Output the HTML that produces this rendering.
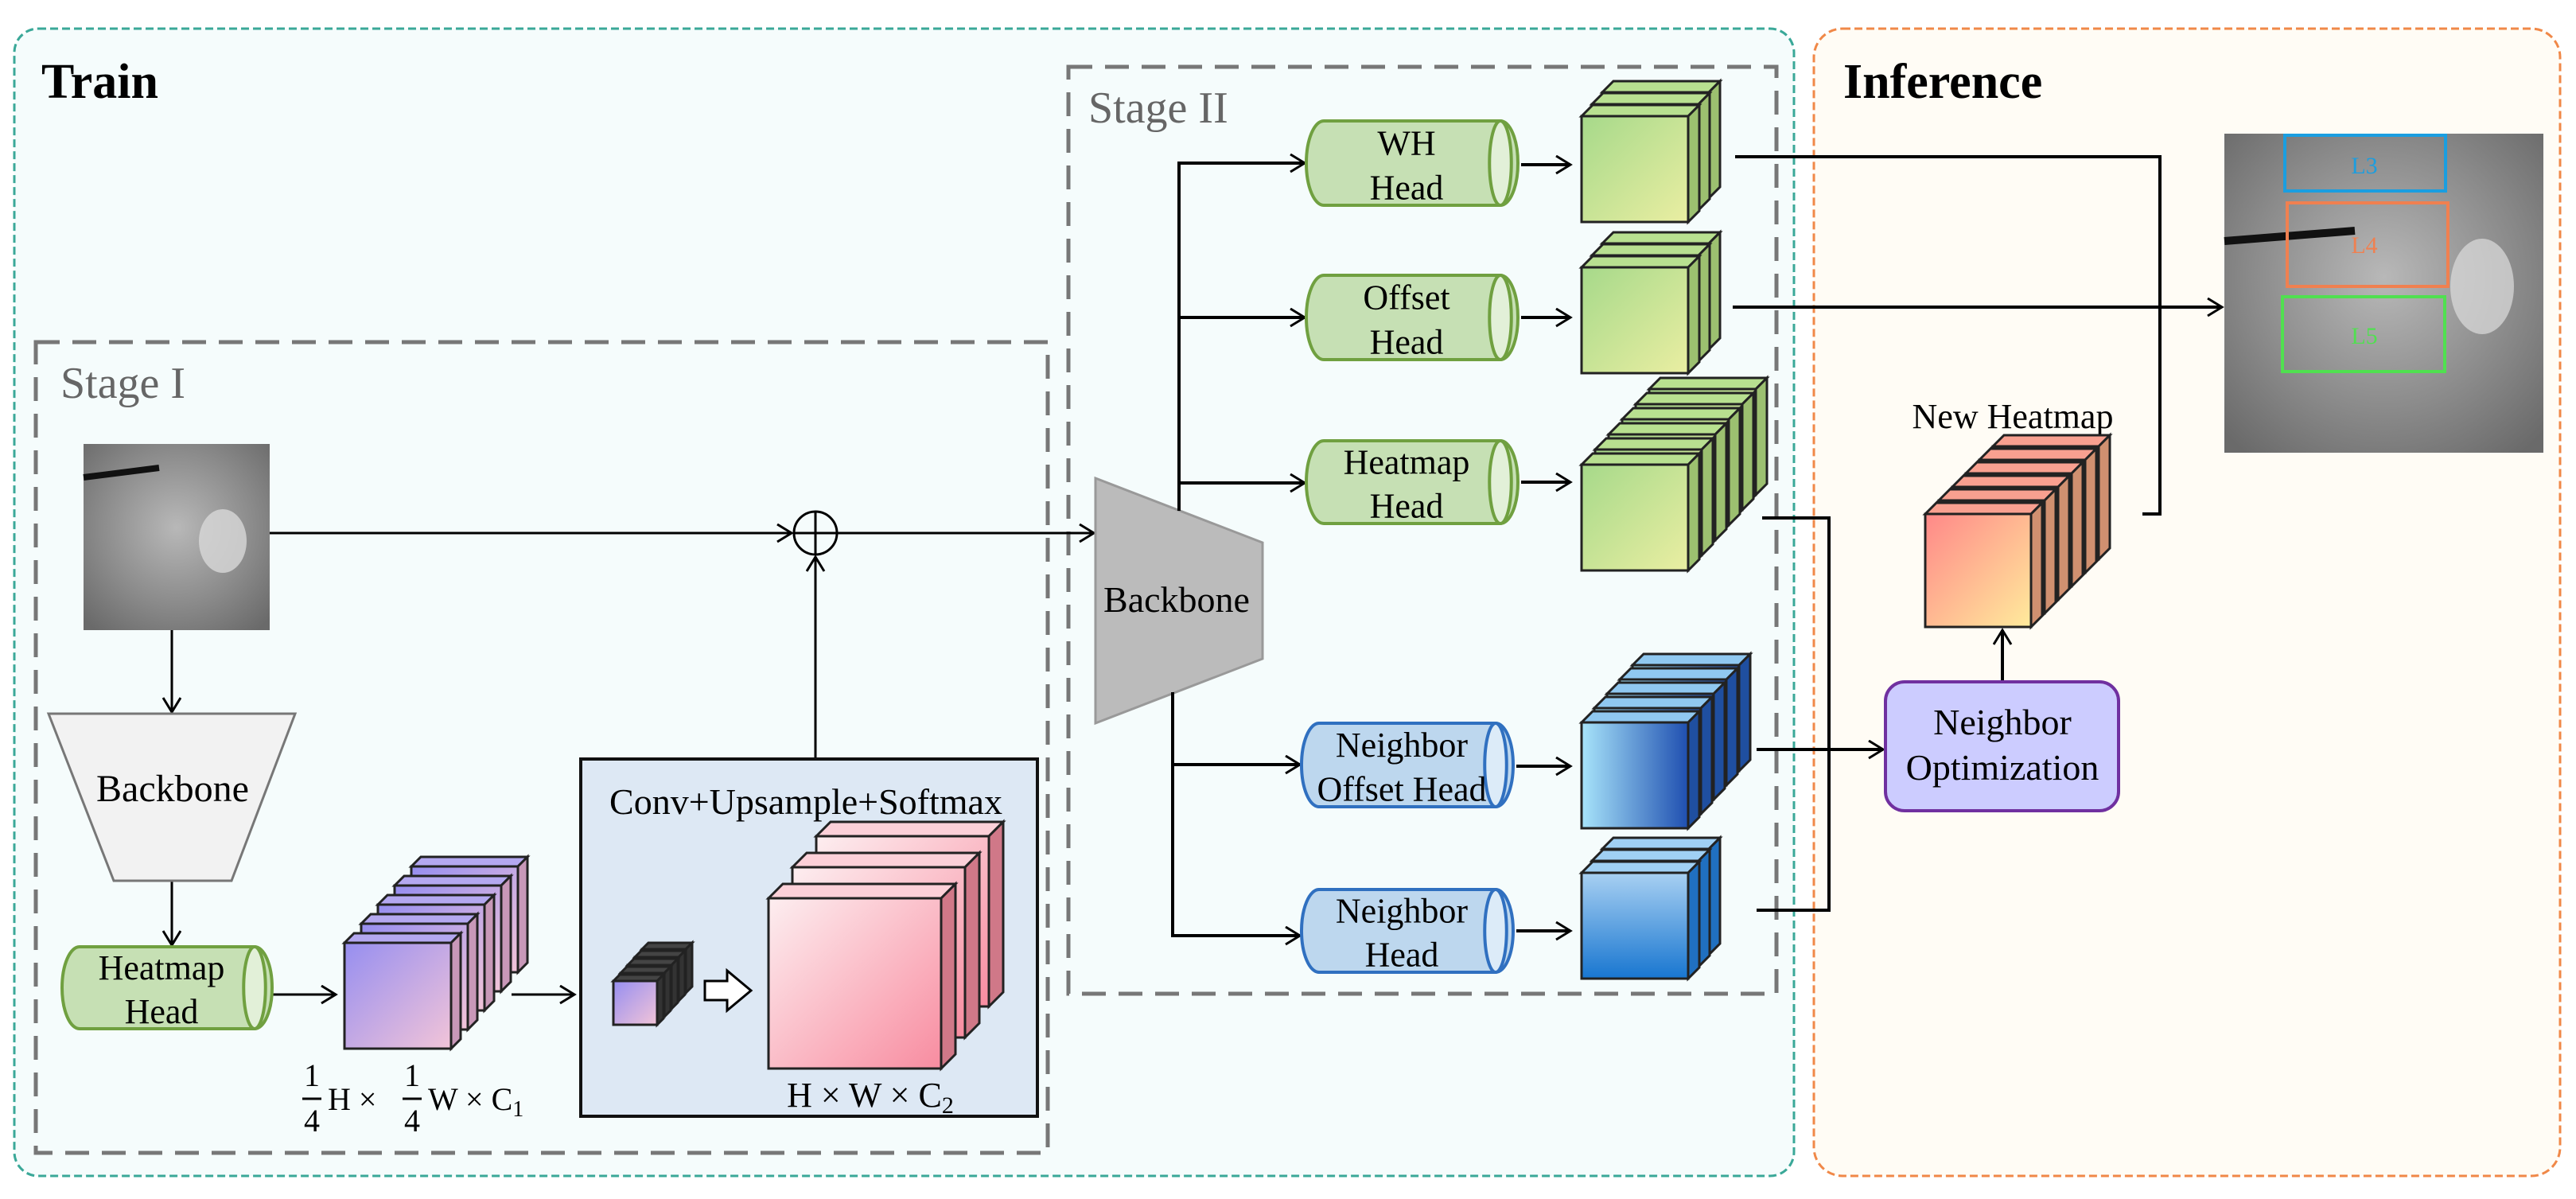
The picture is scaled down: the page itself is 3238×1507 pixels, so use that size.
<!DOCTYPE html>
<html><head><meta charset="utf-8"><style>
html,body{margin:0;padding:0;background:#fff;}
svg{display:block;font-family:"Liberation Serif",serif;}
</style></head><body>
<svg id="s" xmlns="http://www.w3.org/2000/svg" width="3238" height="1507" viewBox="0 0 3238 1507">
<defs>
<marker id="ar" markerWidth="30" markerHeight="30" refX="22" refY="12" orient="auto" markerUnits="userSpaceOnUse">
<polyline points="4,1 22,12 4,23" fill="none" stroke="#000" stroke-width="3"/></marker>
<linearGradient id="gG" x1="0" y1="0" x2="1" y2="1"><stop offset="0" stop-color="#a6d98a"/><stop offset="1" stop-color="#eaeea2"/></linearGradient>
<linearGradient id="gP" x1="0" y1="0" x2="1" y2="1"><stop offset="0" stop-color="#968ef0"/><stop offset="1" stop-color="#f2c4d8"/></linearGradient>
<linearGradient id="gK" x1="0" y1="0" x2="1" y2="1"><stop offset="0" stop-color="#fdeef0"/><stop offset="1" stop-color="#f88ca0"/></linearGradient>
<linearGradient id="gB" x1="0" y1="0" x2="1" y2="0"><stop offset="0" stop-color="#a8e4fa"/><stop offset="1" stop-color="#1f4fb0"/></linearGradient>
<linearGradient id="gH" x1="0" y1="0" x2="0" y2="1"><stop offset="0" stop-color="#a8d0f2"/><stop offset="1" stop-color="#1876d0"/></linearGradient>
<linearGradient id="gN" x1="0" y1="0" x2="1" y2="1"><stop offset="0" stop-color="#ff8888"/><stop offset="1" stop-color="#ffeb9c"/></linearGradient>
<radialGradient id="xr" cx="0.5" cy="0.45" r="0.7"><stop offset="0" stop-color="#b8b8b8"/><stop offset="0.6" stop-color="#8a8a8a"/><stop offset="1" stop-color="#6a6a6a"/></radialGradient>
</defs>

<rect x="18" y="36" width="2237" height="1442" rx="30" fill="#f5fcfc" stroke="#3aa898" stroke-width="3" stroke-dasharray="10,5"/>
<rect x="2280" y="36" width="938" height="1442" rx="36" fill="#fffcf5" stroke="#f08848" stroke-width="3" stroke-dasharray="10,5"/>
<text x="52" y="123" font-size="62" font-weight="bold">Train</text>
<text x="2317" y="123" font-size="62" font-weight="bold">Inference</text>

<rect x="45" y="430" width="1272" height="1019" fill="none" stroke="#777" stroke-width="5" stroke-dasharray="30,16"/>
<text x="76" y="500" font-size="56" fill="#666">Stage I</text>
<rect x="1343" y="84" width="890" height="1165" fill="none" stroke="#777" stroke-width="5" stroke-dasharray="30,16"/>
<text x="1368" y="154" font-size="56" fill="#666">Stage II</text>

<rect x="105" y="558" width="234" height="234" fill="url(#xr)"/>
<ellipse cx="280" cy="680" rx="30" ry="40" fill="#d8d8d8" opacity="0.8"/>
<path d="M105 600 L200 588" stroke="#111" stroke-width="8"/>

<g stroke="#000" stroke-width="3" fill="none">
<line x1="339" y1="670" x2="995" y2="670" marker-end="url(#ar)"/>
<circle cx="1025" cy="670" r="27"/>
<line x1="998" y1="670" x2="1052" y2="670"/><line x1="1025" y1="643" x2="1025" y2="697"/>
<line x1="1052" y1="670" x2="1375" y2="670" marker-end="url(#ar)"/>
<line x1="216" y1="792" x2="216" y2="895" marker-end="url(#ar)"/>
<line x1="216" y1="1107" x2="216" y2="1188" marker-end="url(#ar)"/>
<line x1="342" y1="1250" x2="422" y2="1250" marker-end="url(#ar)"/>
<line x1="643" y1="1250" x2="722" y2="1250" marker-end="url(#ar)"/>
<line x1="1025" y1="954" x2="1025" y2="700" marker-end="url(#ar)"/>
</g>
<polygon points="61,897 371,897 291,1107 143,1107" fill="#f2f2f2" stroke="#777" stroke-width="3"/>
<text x="217" y="1007" font-size="48" text-anchor="middle">Backbone</text>

<rect x="730" y="954" width="574" height="449" fill="#dde8f4" stroke="#111" stroke-width="4"/>
<text x="1013" y="1023" font-size="46" text-anchor="middle">Conv+Upsample+Softmax</text>
<polygon points="886,1233 914,1233 914,1220 944,1245 914,1270 914,1257 886,1257" fill="#fff" stroke="#000" stroke-width="3"/>
<text x="1094" y="1391" font-size="44" text-anchor="middle">H × W × C<tspan font-size="30" dy="8">2</tspan></text>
<g font-size="40">
<text x="392" y="1365" text-anchor="middle">1</text><line x1="380" y1="1381" x2="404" y2="1381" stroke="#000" stroke-width="3"/><text x="392" y="1422" text-anchor="middle">4</text>
<text x="412" y="1395">H ×</text>
<text x="518" y="1365" text-anchor="middle">1</text><line x1="506" y1="1381" x2="530" y2="1381" stroke="#000" stroke-width="3"/><text x="518" y="1422" text-anchor="middle">4</text>
<text x="538" y="1395">W × C<tspan font-size="28" dy="8">1</tspan></text>
</g>

<polygon points="1377,601 1587,682 1587,828 1377,909" fill="#bbb" stroke="#999" stroke-width="3"/>
<text x="1479" y="769" font-size="46" text-anchor="middle">Backbone</text>
<g stroke="#000" stroke-width="4" fill="none">
<polyline points="1482,642 1482,205 1640,205" marker-end="url(#ar)"/>
<line x1="1482" y1="399" x2="1640" y2="399" marker-end="url(#ar)"/>
<line x1="1482" y1="607" x2="1640" y2="607" marker-end="url(#ar)"/>
<polyline points="1474,870 1474,1176 1634,1176" marker-end="url(#ar)"/>
<line x1="1474" y1="961" x2="1634" y2="961" marker-end="url(#ar)"/>
<line x1="1912" y1="207" x2="1974" y2="207" marker-end="url(#ar)"/>
<line x1="1912" y1="399" x2="1974" y2="399" marker-end="url(#ar)"/>
<line x1="1912" y1="606" x2="1974" y2="606" marker-end="url(#ar)"/>
<line x1="1906" y1="963" x2="1974" y2="963" marker-end="url(#ar)"/>
<line x1="1906" y1="1170" x2="1974" y2="1170" marker-end="url(#ar)"/>
<polyline points="2181,197 2715,197 2715,646 2693,646"/>
<line x1="2178" y1="386" x2="2793" y2="386" marker-end="url(#ar)"/>
<polyline points="2215,651 2299,651 2299,1144 2208,1144"/>
<line x1="2208" y1="942" x2="2367" y2="942" marker-end="url(#ar)"/>
<line x1="2517" y1="857" x2="2517" y2="792" marker-end="url(#ar)"/>
</g>
<rect x="2370" y="857" width="293" height="162" rx="24" fill="#ccccff" stroke="#7030a0" stroke-width="4"/>
<text x="2517" y="923" font-size="46" text-anchor="middle">Neighbor</text>
<text x="2517" y="980" font-size="46" text-anchor="middle">Optimization</text>
<text x="2530" y="538" font-size="44" text-anchor="middle">New Heatmap</text>

<rect x="2796" y="168" width="401" height="401" fill="url(#xr)"/>
<ellipse cx="3120" cy="360" rx="40" ry="60" fill="#ddd" opacity="0.7"/>
<path d="M2796 303 L2960 290" stroke="#111" stroke-width="10"/>
<rect x="2872" y="170" width="202" height="70" fill="none" stroke="#1a9ee0" stroke-width="4"/>
<rect x="2875" y="255" width="202" height="105" fill="none" stroke="#f08050" stroke-width="4"/>
<rect x="2869" y="373" width="204" height="94" fill="none" stroke="#50e050" stroke-width="4"/>
<text x="2972" y="218" font-size="30" fill="#1a9ee0" text-anchor="middle">L3</text>
<text x="2972" y="318" font-size="30" fill="#f08050" text-anchor="middle">L4</text>
<text x="2972" y="432" font-size="30" fill="#50e050" text-anchor="middle">L5</text>
<g id="g"></g>
</svg>
<script>
var NS="http://www.w3.org/2000/svg",G=document.getElementById("g");
var S=document.getElementById("s");
function el(t,a,p){var e=document.createElementNS(NS,t);for(var k in a)e.setAttribute(k,a[k]);(p||G).appendChild(e);return e;}
function cube(x,y,w,h,d,f,top,side){
 el("polygon",{points:[x,y,x+d,y-d,x+w+d,y-d,x+w,y].join(","),fill:top,stroke:"#222","stroke-width":3});
 el("polygon",{points:[x+w,y,x+w+d,y-d,x+w+d,y+h-d,x+w,y+h].join(","),fill:side,stroke:"#222","stroke-width":3});
 el("rect",{x:x,y:y,width:w,height:h,fill:f,stroke:"#222","stroke-width":3});
}
function stack(x,y,w,h,d,n,dx,dy,f,top,side){for(var i=n-1;i>=0;i--)cube(x+i*dx,y+i*dy,w,h,d,f,top,side);}
stack(433,1185,134,133,12,5,21,-24,"url(#gP)","#b4a8f0","#c898b8");
stack(771,1233,55,55,8,5,9,-10,"url(#gP)","#444","#333");
stack(966,1129,217,214,18,3,30,-39,"url(#gK)","#fcd0d8","#d07888");
stack(1988,146,134,133,14,3,13,-15,"url(#gG)","#b8e090","#9cc070");
stack(1988,336,134,133,14,3,13,-15,"url(#gG)","#b8e090","#9cc070");
stack(1988,584,134,133,14,6,17,-19,"url(#gG)","#b8e090","#9cc070");
stack(1988,908,134,133,14,5,16,-18,"url(#gB)","#90c8f0","#1f4fa0");
stack(1988,1097,134,133,14,3,13,-15,"url(#gH)","#a0d0f4","#2070c0");
stack(2420,646,133,142,14,6,17,-17,"url(#gN)","#f8a090","#d09070");
function cyl(x,y,w,h,fill,side,stroke,l1,l2){
 var rx=22,ry=h/2,g=document.createElementNS(NS,"g");S.appendChild(g);
 el("path",{d:"M"+(x+rx)+","+y+" L"+(x+w-rx)+","+y+" A"+rx+","+ry+" 0 0 1 "+(x+w-rx)+","+(y+h)+" L"+(x+rx)+","+(y+h)+" A"+rx+","+ry+" 0 0 1 "+(x+rx)+","+y+"Z",fill:fill,stroke:stroke,"stroke-width":4},g);
 el("ellipse",{cx:x+w-rx,cy:y+ry,rx:rx/1.6,ry:ry,fill:side,stroke:stroke,"stroke-width":4},g);
 var cx=x+(w-rx)/2+4;
 var t=el("text",{x:cx,y:y+h*0.4,"font-size":44,"text-anchor":"middle"},g);t.textContent=l1;
 t=el("text",{x:cx,y:y+h*0.93,"font-size":44,"text-anchor":"middle"},g);t.textContent=l2;
}
cyl(78,1190,264,103,"#c6e0b4","#e2f0d8","#70a040","Heatmap","Head");
cyl(1642,152,266,106,"#c6e0b4","#e2f0d8","#70a040","WH","Head");
cyl(1642,346,266,106,"#c6e0b4","#e2f0d8","#70a040","Offset","Head");
cyl(1642,554,266,104,"#c6e0b4","#e2f0d8","#70a040","Heatmap","Head");
cyl(1636,909,266,105,"#bdd7ee","#dcebf8","#3070c0","Neighbor","Offset Head");
cyl(1636,1118,266,104,"#bdd7ee","#dcebf8","#3070c0","Neighbor","Head");
</script>
</body></html>
